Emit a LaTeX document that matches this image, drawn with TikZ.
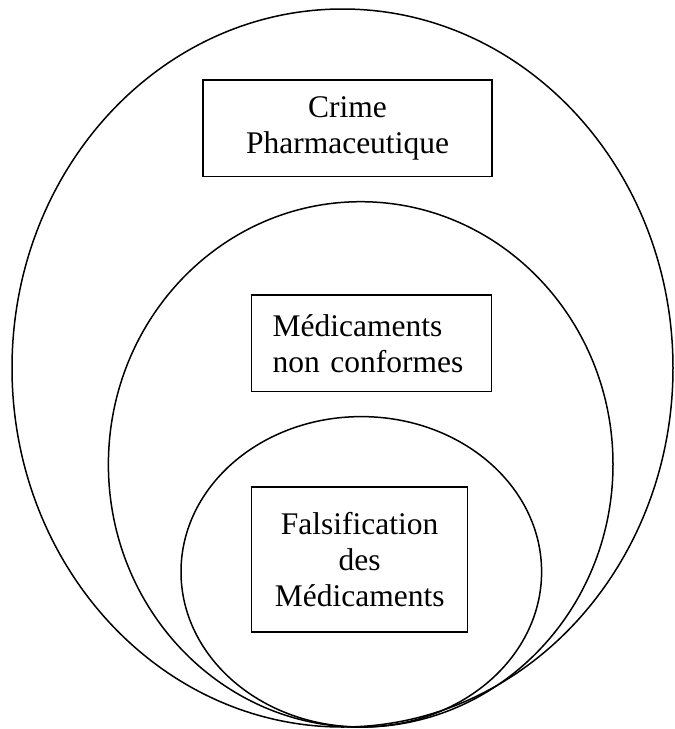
\documentclass[tikz,border=0pt]{standalone}
\usepackage{fontspec}
\setmainfont{Liberation Serif}
\begin{document}
\begin{tikzpicture}[x=1pt, y=-1pt, line width=1.5pt,
  box/.style={draw, inner sep=0pt, font=\fontsize{31.5}{36}\selectfont}]
\useasboundingbox (0,0) rectangle (675,729);
% nested ellipses, all touching at the bottom
\draw (342.5,368) ellipse [x radius=330.5, y radius=359];
\draw (360.7,464.4) ellipse [x radius=252.3, y radius=262.7];
\draw (361.3,571.8) ellipse [x radius=180.3, y radius=155.2];
% labels
\node [box, minimum width=289, minimum height=96.7, text width=289, align=center] (crime) at (347.5,128.3) {Crime\\Pharmaceutique};
\node [box, minimum width=240, minimum height=96.5, inner xsep=21, text width=198, align=left] (nonconf) at (371.7,343.3) {Médicaments\\non conformes};
\node [box, minimum width=216, minimum height=145, text width=216, align=center] (falsif) at (359.7,559.5) {Falsification\\des\\Médicaments};
\end{tikzpicture}
\end{document}
